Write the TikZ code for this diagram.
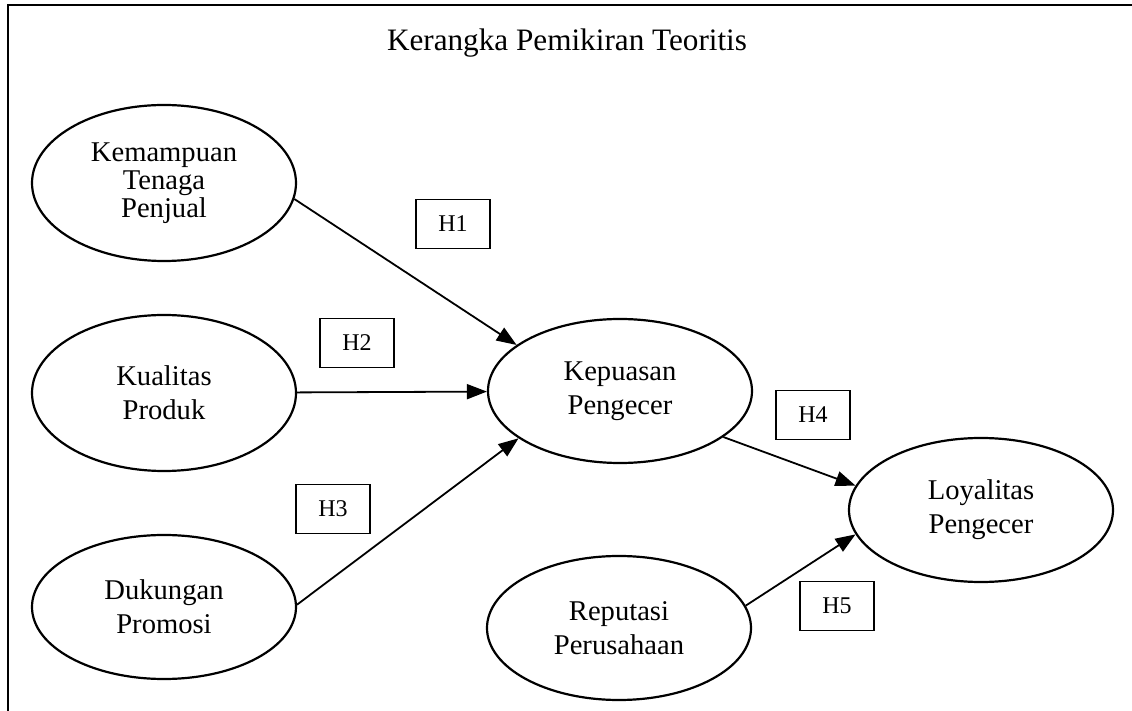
\documentclass[tikz,border=0pt]{standalone}
\usepackage{fontspec}
\setmainfont{Liberation Serif}
\usetikzlibrary{shapes.geometric, arrows.meta, positioning}
\tikzset{
  var/.style={ellipse, draw, line width=1.1pt, inner sep=0pt,
    minimum width=132pt, minimum height=72pt, align=center,
    font=\fontsize{14.3}{17}\selectfont},
  hyp/.style={draw, line width=0.9pt, inner sep=0pt,
    minimum width=37pt, minimum height=24.5pt,
    font=\fontsize{12}{14}\selectfont},
  link/.style={-{Triangle[length=10pt,width=7.5pt]}, line width=0.9pt}
}

\begin{document}
\begin{tikzpicture}[x=0.5pt, y=-0.5pt]
    \useasboundingbox (0,0) rectangle (1132,711);
    % frame (top and left only)
    \draw[line width=1.2pt] (1132,5) -- (8,5) -- (8,711);
    \node[font=\fontsize{15.6}{18}\selectfont] (title) at (567,43) {Kerangka Pemikiran Teoritis};
    % ── independent variables
    \node[var, minimum height=78pt, font=\fontsize{14.3}{14}\selectfont] (kemampuan) at (164,183) {Kemampuan\\Tenaga\\Penjual};
    \node[var, minimum height=78pt] (kualitas) at (164,393) {Kualitas\\Produk};
    \node[var] (dukungan) at (164,607) {Dukungan\\Promosi};
    % ── mediator, outcome and reputation
    \node[var] (kepuasan) at (620,391) {Kepuasan\\Pengecer};
    \node[var] (loyalitas) at (981,510) {Loyalitas\\Pengecer};
    \node[var] (reputasi) at (619,628) {Reputasi\\Perusahaan};
    % ── hypotheses
    \node[hyp] (h1) at (453,224) {H1};
    \node[hyp] (h2) at (357,343) {H2};
    \node[hyp] (h3) at (333,509) {H3};
    \node[hyp] (h4) at (813,415) {H4};
    \node[hyp] (h5) at (837,606) {H5};
    % ── paths
    \draw[link] (kemampuan.-7) -- (kepuasan.156);
    \draw[link] (kualitas) -- (kepuasan);
    \draw[link] (dukungan.1) -- (kepuasan.205);
    \draw[link] (kepuasan.-24) -- (loyalitas.169);
    \draw[link] (reputasi.10) -- (loyalitas.191);
\end{tikzpicture}
\end{document}
